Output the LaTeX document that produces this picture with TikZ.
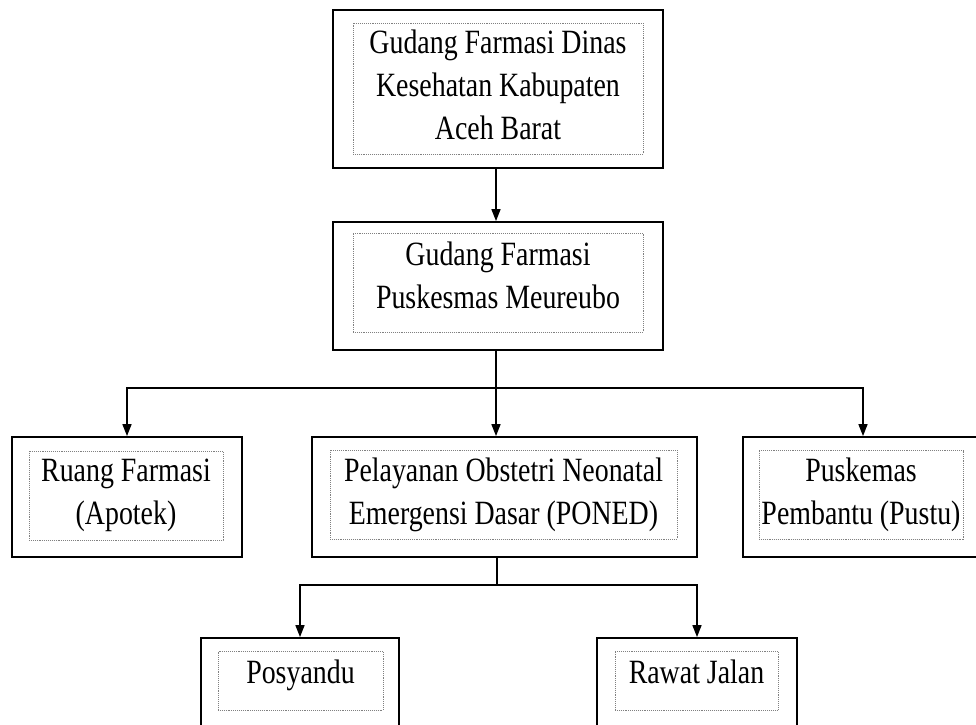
\documentclass[tikz,border=0pt]{standalone}
\usepackage{fontspec}
\setmainfont[FakeStretch=0.82]{Liberation Serif}
\usetikzlibrary{arrows.meta}

\begin{document}
\begin{tikzpicture}[x=1pt,y=-1pt,
  outerbox/.style={draw, line width=1.8pt},
  innerbox/.style={draw=gray, densely dotted, line width=0.9pt, align=center,
    inner sep=0pt, font=\fontsize{34}{43}\selectfont},
  link/.style={line width=1.5pt},
  arr/.style={line width=1.5pt, -{Triangle[length=12pt,width=9pt]}}]
  \useasboundingbox (0,0) rectangle (976,724);

  %draw outer boxes
  \node[outerbox, minimum width=330pt, minimum height=158pt] (dinas) at (498,89) {};
  \node[outerbox, minimum width=330pt, minimum height=128pt] (pkm) at (498,286) {};
  \node[outerbox, minimum width=230pt, minimum height=120pt] (apotek) at (127,497) {};
  \node[outerbox, minimum width=385pt, minimum height=120pt] (poned) at (504.5,497) {};
  \node[outerbox, minimum width=240pt, minimum height=120pt] (pustu) at (863,497) {};
  \node[outerbox, minimum width=198pt, minimum height=92pt] (posyandu) at (300,684) {};
  \node[outerbox, minimum width=200pt, minimum height=92pt] (rawat) at (697,684) {};

  %draw inner boxes
  \node[innerbox, minimum width=290pt, minimum height=131pt, text depth=7pt] (dinasin) at (498,88.5)
    {Gudang Farmasi Dinas\\Kesehatan Kabupaten\\Aceh Barat};
  \node[innerbox, minimum width=290pt, minimum height=99pt, text depth=15pt] (pkmin) at (498,282.5)
    {Gudang Farmasi\\Puskesmas Meureubo};
  \node[innerbox, minimum width=194pt, minimum height=89pt] (apotekin) at (126,495.5)
    {Ruang Farmasi\\(Apotek)};
  \node[innerbox, minimum width=347pt, minimum height=89pt] (ponedin) at (503.5,494.5)
    {Pelayanan Obstetri Neonatal\\Emergensi Dasar (PONED)};
  \node[innerbox, minimum width=204pt, minimum height=89pt] (pustuin) at (861,495)
    {Puskemas\\Pembantu (Pustu)};
  \node[innerbox, minimum width=165pt, minimum height=59pt, text depth=18pt] (posyanduin) at (300.5,680.5)
    {Posyandu};
  \node[innerbox, minimum width=163pt, minimum height=59pt, text depth=18pt] (rawatin) at (696.5,680.5)
    {Rawat Jalan};

  %draw connectors
  \coordinate (j1) at (496,388);
  \coordinate (j2) at (497,585);
  \draw[arr] (dinas.south -| j1) -- (pkm.north -| j1);
  \draw[link] (pkm.south -| j1) -- (j1);
  \draw[arr] (j1) -| (apotek.north);
  \draw[arr] (j1) -- (poned.north -| j1);
  \draw[arr] (j1) -| (pustu.north);
  \draw[link] (poned.south -| j2) -- (j2);
  \draw[arr] (j2) -| (posyandu.north);
  \draw[arr] (j2) -| (rawat.north);
\end{tikzpicture}
\end{document}
